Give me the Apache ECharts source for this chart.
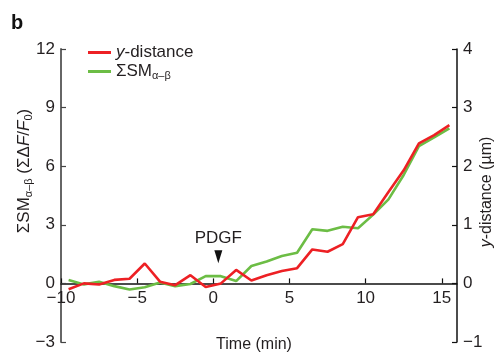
<!DOCTYPE html>
<html>
<head>
<meta charset="utf-8">
<script src="https://cdn.jsdelivr.net/npm/echarts@6/dist/echarts.min.js"></script>
<style>html,body{margin:0;padding:0;background:#fff}#c{width:495px;height:353px}</style>
</head>
<body>
<div id="c"></div>
<script>
// Time points (min)
const minutes = [-9.5,-8.5,-7.5,-6.5,-5.5,-4.5,-3.5,-2.5,-1.5,-0.5,0.5,1.5,2.5,3.5,4.5,5.5,6.5,7.5,8.5,9.5,10.5,11.5,12.5,13.5,14.5,15.5];
// y-distance (µm), right axis
const yDistance = [-0.10,0.00,-0.02,0.06,0.08,0.34,0.03,-0.03,0.14,-0.06,0.00,0.23,0.05,0.14,0.21,0.26,0.58,0.54,0.67,1.13,1.18,1.56,1.93,2.39,2.53,2.70];
// ΣSM α–β (ΣΔF/F0), left axis
const sumSM = [0.17,-0.05,0.08,-0.14,-0.31,-0.20,0.05,-0.14,-0.03,0.37,0.37,0.12,0.89,1.12,1.40,1.57,2.77,2.69,2.90,2.82,3.52,4.30,5.55,7.03,7.48,7.94];
const xTicks = [-10,-5,0,5,10,15];
const leftRange = [-3, 12];
const rightRange = [-1, 4];
const pdgfAt = [0.33, 1.37];

const FONT = 'Liberation Sans, Arial, Helvetica, sans-serif';
const TXT = '#231f20';
const minus = v => String(v).replace('-', '\u2212');

const W = 495, H = 353;
const G = {left: 61, right: 38, top: 49, bottom: 11};
const gridH = H - G.top - G.bottom;
// x axis drawn at y = 0 of the left axis
const zeroOffset = -(0 - leftRange[0]) / (leftRange[1] - leftRange[0]) * gridH;

const chart = echarts.init(document.getElementById('c'), null, {renderer: 'canvas'});
chart.setOption({
  animation: false,
  backgroundColor: '#fff',
  grid: Object.assign({containLabel: false}, G),
  legend: {
    data: ['y-distance', 'ΣSMα–β'],
    orient: 'vertical', left: 83, top: 39, itemGap: 2,
    icon: 'rect', itemWidth: 23, itemHeight: 3,
    textStyle: {
      fontFamily: FONT, fontSize: 17, color: TXT,
      rich: {
        n: {fontFamily: FONT, fontSize: 17, color: TXT, lineHeight: 20},
        i: {fontFamily: FONT, fontSize: 17, color: TXT, fontStyle: 'italic', lineHeight: 20},
        s: {fontFamily: FONT, fontSize: 11, color: TXT, lineHeight: 11, verticalAlign: 'bottom'}
      }
    },
    formatter: name => name === 'y-distance' ? '{i|y}{n|-distance}' : '{n|ΣSM}{s|α–β}'
  },
  xAxis: {
    type: 'value', min: -10, max: 16, position: 'bottom', offset: zeroOffset,
    axisLine: {onZero: false, lineStyle: {color: '#111', width: 1.5}},
    axisTick: {inside: true, length: 5, customValues: xTicks, lineStyle: {color: '#111', width: 1.2}},
    axisLabel: {customValues: xTicks, margin: 6, fontFamily: FONT, fontSize: 17, color: TXT, formatter: minus},
    splitLine: {show: false}
  },
  yAxis: [
    {
      type: 'value', min: leftRange[0], max: leftRange[1], interval: 3, position: 'left',
      axisLine: {show: true, onZero: false, lineStyle: {color: '#666', width: 2}},
      axisTick: {show: true, inside: true, length: 5, lineStyle: {color: '#444', width: 1.2}},
      axisLabel: {margin: 6, fontFamily: FONT, fontSize: 17, color: TXT, formatter: minus},
      splitLine: {show: false}
    },
    {
      type: 'value', min: rightRange[0], max: rightRange[1], interval: 1, position: 'right',
      axisLine: {show: true, onZero: false, lineStyle: {color: '#111', width: 1.5}},
      axisTick: {show: true, inside: true, length: 5, lineStyle: {color: '#111', width: 1.2}},
      axisLabel: {margin: 6, fontFamily: FONT, fontSize: 17, color: TXT, formatter: minus},
      splitLine: {show: false}
    }
  ],
  series: [
    {
      name: 'ΣSMα–β', type: 'line', yAxisIndex: 0,
      data: minutes.map((m, i) => [m, sumSM[i]]),
      showSymbol: false, symbol: 'none',
      lineStyle: {color: '#6cbd45', width: 2.6}, itemStyle: {color: '#6cbd45'},
      markPoint: {
        silent: true,
        data: [{coord: pdgfAt, symbol: 'triangle', symbolRotate: 180, symbolSize: [8, 13],
          itemStyle: {color: '#111'},
          label: {show: true, formatter: 'PDGF', position: 'top', distance: 3,
            fontFamily: FONT, fontSize: 17, color: TXT}}]
      }
    },
    {
      name: 'y-distance', type: 'line', yAxisIndex: 1,
      data: minutes.map((m, i) => [m, yDistance[i]]),
      showSymbol: false, symbol: 'none',
      lineStyle: {color: '#ed2024', width: 2.6}, itemStyle: {color: '#ed2024'}
    }
  ],
  graphic: [
    {type: 'text', left: 11, top: 13, style: {text: 'b', font: 'bold 20px ' + FONT, fill: '#111'}},
    {type: 'text', x: 254, y: 345, style: {text: 'Time (min)', font: '16px ' + FONT, fill: TXT,
      align: 'center', verticalAlign: 'middle', textAlign: 'center', textVerticalAlign: 'middle'}},
    {type: 'text', x: 24, y: 171, rotation: Math.PI / 2, style: {
      text: '{n|ΣSM}{s|α–β}{n| (ΣΔ}{i|F}{n|/}{i|F}{s|0}{n|)}',
      align: 'center', verticalAlign: 'middle', textAlign: 'center', textVerticalAlign: 'middle',
      rich: {
        n: {font: '17px ' + FONT, fill: TXT, lineHeight: 20},
        i: {font: 'italic 17px ' + FONT, fill: TXT, lineHeight: 20},
        s: {font: '11px ' + FONT, fill: TXT, lineHeight: 11, verticalAlign: 'bottom'}
      }}},
    {type: 'text', x: 487, y: 192, rotation: Math.PI / 2, style: {
      text: '{i|y}{n|-distance (µm)}',
      align: 'center', verticalAlign: 'middle', textAlign: 'center', textVerticalAlign: 'middle',
      rich: {
        n: {font: '16px ' + FONT, fill: TXT, lineHeight: 20},
        i: {font: 'italic 16px ' + FONT, fill: TXT, lineHeight: 20}
      }}}
  ]
});
</script>
</body>
</html>
